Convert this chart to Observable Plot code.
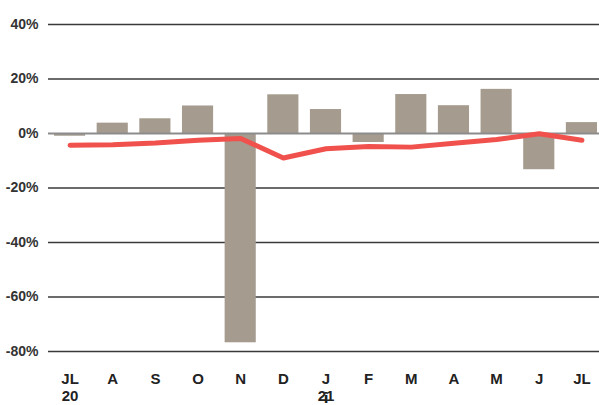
<!DOCTYPE html>
<html>
<head>
<meta charset="utf-8">
<script src="https://cdn.jsdelivr.net/npm/d3@7"></script>
<script src="https://cdn.jsdelivr.net/npm/@observablehq/plot@0.6"></script>
<style>
  html, body { margin: 0; padding: 0; background: #fff; }
  svg { display: block; }
</style>
</head>
<body>
<div id="chart"></div>
<script>
const monthLabels = ["JL", "A", "S", "O", "N", "D", "J", "F", "M", "A", "M", "J", "JL"];
const yearLabels = ["20", "", "", "", "", "", "21", "", "", "", "", "", ""];
const barValues = [-1, 3.8, 5.4, 10.1, -76.8, 14.2, 8.8, -3.3, 14.3, 10.2, 16.2, -13.3, 4.0];
const lineValues = [-4.3, -4.1, -3.5, -2.5, -1.8, -9.0, -5.6, -4.8, -5.0, -3.6, -2.2, -0.1, -2.5];
const yTicks = [40, 20, -20, -40, -60, -80];
const yLabelTicks = [40, 20, 0, -20, -40, -60, -80];

const data = monthLabels.map((m, i) => ({i, bar: barValues[i], line: lineValues[i]}));

const font = "'Liberation Sans', Arial, sans-serif";

const chart = Plot.plot({
  width: 599,
  height: 405,
  marginTop: 24,
  marginBottom: 54,
  marginLeft: 54,
  marginRight: 2,
  style: {fontFamily: font, background: "#fff"},
  x: {type: "band", domain: d3.range(monthLabels.length), paddingInner: 0.27, paddingOuter: 0, round: false, axis: null},
  y: {domain: [-80, 40], axis: null},
  marks: [
    Plot.ruleY(yTicks, {stroke: "#3a3a3a", strokeWidth: 1.4, insetLeft: -6, insetRight: -2}),
    Plot.barY(data, {x: "i", y: "bar", fill: "#a59b8f"}),
    Plot.ruleY([0], {stroke: "#8c8c8c", strokeWidth: 2, insetLeft: -6, insetRight: -2}),
    Plot.line(data, {x: "i", y: "line", stroke: "#f0514c", strokeWidth: 5, strokeLinecap: "round", strokeLinejoin: "round"}),
    Plot.axisY(yLabelTicks, {tickSize: 0, tickPadding: 16, tickFormat: d => d + "%", fontSize: 14, fontWeight: "bold", fill: "#333", letterSpacing: "-0.6px"}),
    Plot.axisX(d3.range(monthLabels.length), {tickSize: 0, tickPadding: 22, tickFormat: i => monthLabels[i], fontSize: 15, fontWeight: "bold", fill: "#222"}),
    Plot.axisX(d3.range(yearLabels.length).filter(i => yearLabels[i]), {tickSize: 0, tickPadding: 39, tickFormat: i => yearLabels[i], fontSize: 15, fontWeight: "bold", fill: "#222"})
  ]
});
document.getElementById("chart").appendChild(chart);
</script>
</body>
</html>
